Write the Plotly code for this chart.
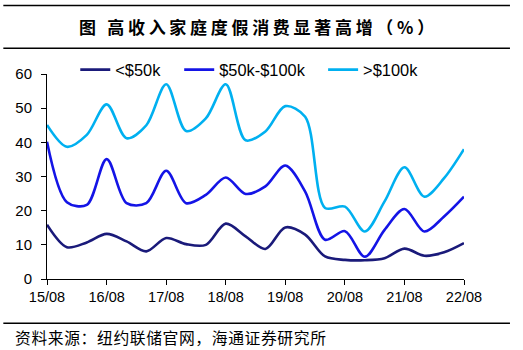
import plotly.graph_objects as go

periods = ["2015-08", "2015-12", "2016-04", "2016-08", "2016-12", "2017-04", "2017-08",
           "2017-12", "2018-04", "2018-08", "2018-12", "2019-04", "2019-08", "2019-12",
           "2020-04", "2020-08", "2020-12", "2021-04", "2021-08", "2021-12", "2022-04", "2022-08"]

low = [15.9, 9.3, 10.7, 13.2, 11.0, 8.1, 12.0, 10.2, 10.0, 16.2, 12.5,
       8.8, 15.1, 13.0, 6.6, 5.6, 5.5, 6.1, 8.9, 6.8, 7.8, 10.5]
mid = [40.2, 22.5, 21.7, 35.1, 22.2, 22.2, 31.7, 22.2, 24.6, 29.7, 24.9,
       27.1, 33.2, 25.6, 11.5, 14.0, 6.5, 14.4, 20.5, 13.9, 18.3, 24.1]
high = [45.1, 38.7, 42.2, 51.1, 41.2, 45.0, 57.0, 43.3, 47.0, 57.0, 40.6,
        43.2, 50.6, 47.5, 20.8, 21.2, 13.9, 22.7, 32.7, 24.1, 29.5, 38.0]

series_names = ["<$50k", "$50k-$100k", ">$100k"]
series_colors = ["#1a1a7a", "#1414e6", "#00b0f0"]

tick_vals = ["2015-08", "2016-08", "2017-08", "2018-08", "2019-08", "2020-08", "2021-08", "2022-08"]
tick_text = ["15/08", "16/08", "17/08", "18/08", "19/08", "20/08", "21/08", "22/08"]

title_text = "图 高收入家庭度假消费显著高增（%）"
source_text = "资料来源：纽约联储官网，海通证券研究所"

x = [p + "-01" for p in periods]

L, R, T, B = 46.7, 59, 74, 70.5
W, H = 523, 350
plot_w = W - L - R
plot_h = H - T - B

def px_x(v):
    return (v - L) / plot_w

def px_y(v):
    return (H - B - v) / plot_h

legend_ids = ["legend", "legend2", "legend3"]
legend_left = [75, 179, 323]

fig = go.Figure()
for name, vals, col, lg in zip(series_names, [low, mid, high], series_colors, legend_ids):
    fig.add_trace(go.Scatter(
        x=x, y=vals, name=name, mode="lines", legend=lg,
        line=dict(color=col, width=2.6, shape="spline", smoothing=0.9),
    ))

legend_common = dict(orientation="h", yanchor="middle", xanchor="left",
                     bgcolor="rgba(0,0,0,0)", font=dict(size=16.4),
                     itemwidth=30, borderwidth=0)

fig.update_layout(
    width=W, height=H,
    margin=dict(l=L, r=R, t=T, b=B),
    paper_bgcolor="white", plot_bgcolor="white",
    font=dict(family="Liberation Sans, Arial", size=14.5, color="black"),
    showlegend=True,
    legend=dict(x=px_x(legend_left[0]), y=px_y(70), **legend_common),
    legend2=dict(x=px_x(legend_left[1]), y=px_y(70), **legend_common),
    legend3=dict(x=px_x(legend_left[2]), y=px_y(70), **legend_common),
    xaxis=dict(
        type="date", range=[x[0], x[-1]],
        tickvals=[t + "-01" for t in tick_vals], ticktext=tick_text,
        showgrid=False, zeroline=False, showline=True, linecolor="black", linewidth=1,
        ticks="outside", ticklen=5, tickcolor="black", tickfont=dict(size=14.5),
    ),
    yaxis=dict(
        range=[0, 60], tickvals=[0, 10, 20, 30, 40, 50, 60],
        showgrid=False, zeroline=False, showline=True, linecolor="black", linewidth=1,
        ticks="outside", ticklen=5, tickcolor="black", tickfont=dict(size=15),
        ticklabelstandoff=6,
    ),
)

for yy in [5.3, 48.3, 323.8]:
    fig.add_shape(type="line", xref="paper", yref="paper",
                  x0=px_x(3), x1=px_x(510), y0=px_y(yy), y1=px_y(yy),
                  line=dict(color="black", width=1.5))

fig.add_annotation(text='<b><span style="letter-spacing:3.7px">' + title_text + '</span></b>',
                   xref="paper", yref="paper",
                   x=px_x(77), y=px_y(26),
                   xanchor="left", yanchor="middle", showarrow=False,
                   font=dict(family="Noto Sans CJK SC", size=17, color="black"))

fig.add_annotation(text='<span style="letter-spacing:0.6px">' + source_text + '</span>',
                   xref="paper", yref="paper",
                   x=px_x(13), y=px_y(338),
                   xanchor="left", yanchor="middle", showarrow=False,
                   font=dict(family="Noto Sans CJK SC", size=15.8, color="black"))

fig.write_html("out.html")
